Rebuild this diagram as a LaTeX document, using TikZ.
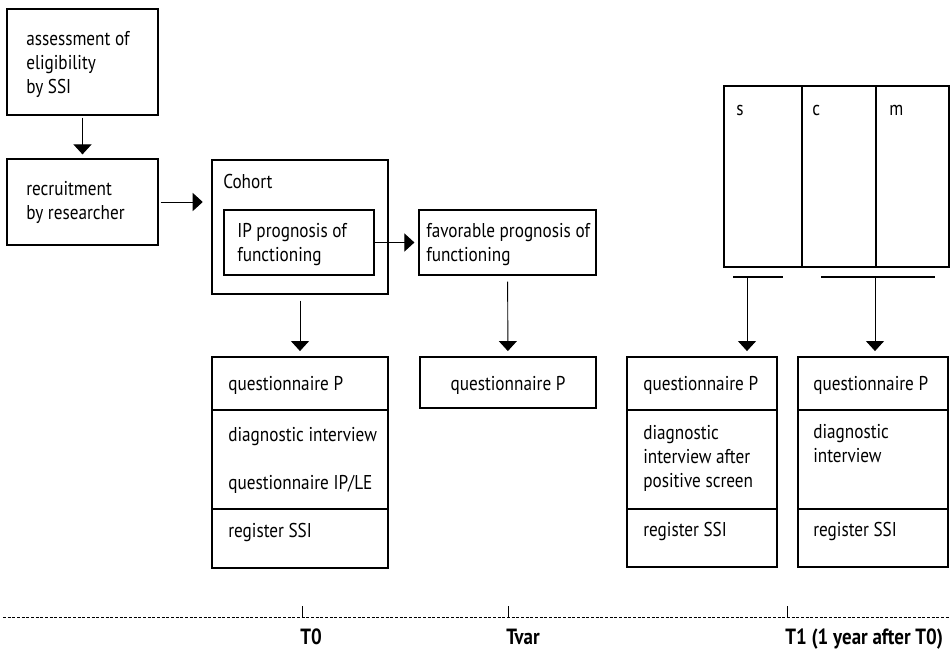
\documentclass[tikz,border=0pt]{standalone}
\usepackage{fontspec}
\setmainfont[FakeStretch=0.86]{PT Sans}
\usetikzlibrary{arrows.meta,fit}
\begin{document}
\begin{tikzpicture}[x=0.75pt,y=-0.75pt,
  font=\fontsize{15}{18}\selectfont,
  frame/.style={draw, line width=0.9pt, inner sep=0pt},
  txt/.style={anchor=base west, inner sep=0pt, align=left},
  flow/.style={line width=0.7pt, -{Triangle[width=13.5pt,length=7.5pt]}}]
  \useasboundingbox (0,0) rectangle (950,652);
  % frames
  \node[frame, fit={(7,9) (158,115)}] (assess) {};
  \node[frame, fit={(7,159) (158,245)}] (recruit) {};
  \node[frame, fit={(212,160) (388,294)}] (cohort) {};
  \node[frame, fit={(224,210) (374,275)}] (ip) {};
  \node[frame, fit={(419,210) (596,275)}] (fav) {};
  \node[frame, fit={(724,86) (949,267)}] (smc) {};
  \node[frame, fit={(212,357) (388,568)}] (tzero) {};
  \node[frame, fit={(420,357) (596,408)}] (tvar) {};
  \node[frame, fit={(627,357) (777,567)}] (tone) {};
  \node[frame, fit={(798,357) (948,567)}] (ttwo) {};
  \draw[line width=0.9pt] (802,86) -- (802,267) (876,86) -- (876,267);
  \foreach \a/\b in {212/388, 627/777, 798/948} {
    \draw[line width=0.9pt] (\a,410) -- (\b,410) (\a,509) -- (\b,509); }
  % texts (multi-line ones sit on their last line)
  \node[txt] (assesst) at (26,94) {assessment of\\eligibility\\by SSI};
  \node[txt] (recruitt) at (26,220) {recruitment\\by researcher};
  \node[txt] (cohortt) at (223,189) {Cohort};
  \node[txt] (ipt) at (237,262) {IP prognosis of\\functioning};
  \node[txt] (favt) at (426,262) {favorable prognosis of\\functioning};
  \node[txt] (st) at (736,116) {s};
  \node[txt] (ct) at (812,116) {c};
  \node[txt] (mt) at (889,116) {m};
  \node[txt, anchor=base] (tvart) at (508,391) {questionnaire P};
  \node[txt] (tzeroa) at (228,391) {questionnaire P};
  \node[txt] (tzerob) at (228,441) {diagnostic interview};
  \node[txt] (tzeroc) at (228,489) {questionnaire IP/LE};
  \node[txt] (tzerod) at (228,537) {register SSI};
  \node[txt] (tonea) at (643,391) {questionnaire P};
  \node[txt] (toneb) at (643,487) {diagnostic\\interview after\\positive screen};
  \node[txt] (tonec) at (643,536) {register SSI};
  \node[txt] (ttwoa) at (813,391) {questionnaire P};
  \node[txt] (ttwob) at (813,462) {diagnostic\\interview};
  \node[txt] (ttwoc) at (813,536) {register SSI};
  % connectors
  \draw[flow, shorten <=1.5pt, shorten >=3pt] (assess) -- (recruit);
  \draw[flow, shorten <=1.5pt, shorten >=6.5pt] (recruit.east) -- (cohort.west |- recruit.east);
  \draw[flow, shorten >=3pt] (ip.east) -- (fav.west |- ip.east);
  \draw[flow, shorten <=4.5pt, shorten >=4pt] (cohort) -- (tzero);
  \draw[flow, shorten <=4.5pt, shorten >=4pt] (fav) -- (tvar);
  \draw[line width=0.9pt] (733,277) -- (783,277) (821,277) -- (935,277);
  \coordinate (barone) at (747,277);
  \coordinate (bartwo) at (875,277);
  \draw[flow, shorten >=4pt] (barone) -- (barone |- tone.north);
  \draw[flow, shorten >=4pt] (bartwo) -- (bartwo |- ttwo.north);
  % time line
  \draw[line width=0.5pt, dash pattern=on 2.2pt off 1.3pt] (3,617) -- (950,617);
  \foreach \t/\lbl/\n in {302/T0/tlzero, 508/Tvar/tlvar, 787/{T1 (1 year after T0)}/tlone} {
    \draw[line width=0.5pt] (\t,606) -- (\t,617);
    \node[txt, font=\fontsize{16.5}{18}\selectfont\bfseries] (\n) at (\t-2,644) {\lbl}; }
\end{tikzpicture}
\end{document}
